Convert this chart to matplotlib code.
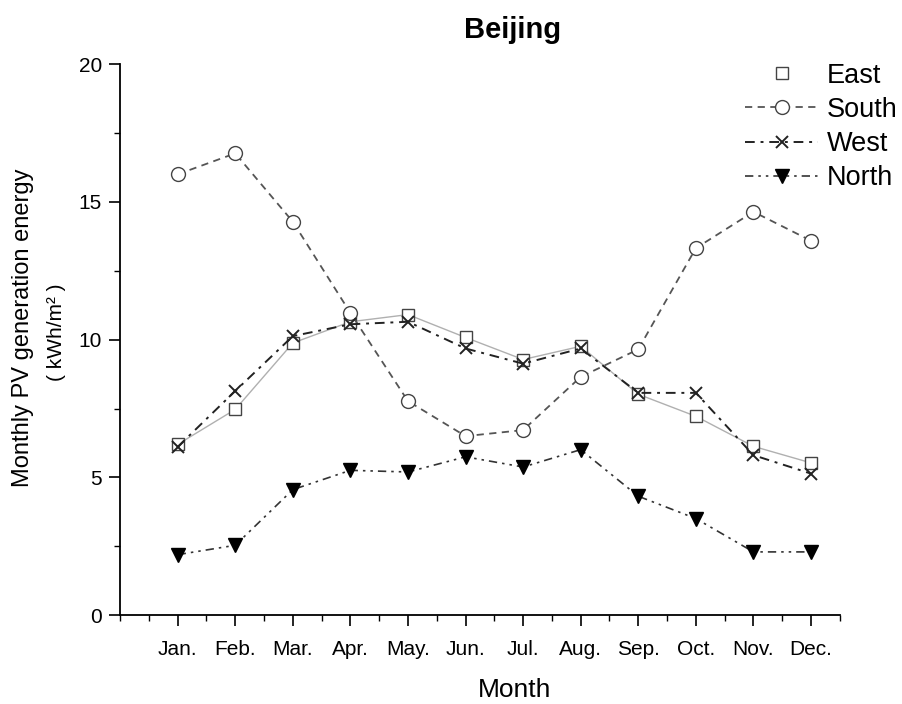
import matplotlib
matplotlib.use("Agg")
import matplotlib.pyplot as plt
from matplotlib.ticker import MultipleLocator

plt.rcParams['font.family'] = ['Liberation Sans', 'DejaVu Sans']

months = ["Jan.", "Feb.", "Mar.", "Apr.", "May.", "Jun.",
          "Jul.", "Aug.", "Sep.", "Oct.", "Nov.", "Dec."]
east = [6.2, 7.47, 9.88, 10.65, 10.91, 10.08, 9.28, 9.76, 8.02, 7.22, 6.13, 5.53]
south = [16.0, 16.76, 14.28, 10.97, 7.77, 6.5, 6.72, 8.65, 9.65, 13.32, 14.64, 13.59]
west = [6.11, 8.14, 10.13, 10.56, 10.65, 9.68, 9.13, 9.68, 8.07, 8.07, 5.81, 5.14]
north = [2.2, 2.54, 4.56, 5.26, 5.2, 5.75, 5.38, 6.01, 4.32, 3.51, 2.3, 2.3]

x = list(range(1, len(months) + 1))

fig = plt.figure(figsize=(9.03, 7.04), dpi=100)
ax = fig.add_axes([0.133, 0.126, 0.797, 0.783])

# East: light grey connecting line, legend shows the marker only
ax.plot(x, east, color='#b0b0b0', lw=1.0, zorder=2)
ax.plot(x, east, ls='none', marker='s', ms=9, mfc='white', mec='#444444',
        mew=1.0, label='East', zorder=3)
ax.plot(x, south, color='#555555', ls=(0, (4, 3)), lw=1.3, marker='o', ms=10,
        mfc='white', mec='#444444', mew=1.0, label='South', zorder=3)
ax.plot(x, west, color='#222222', ls=(0, (5, 3, 1.5, 3)), lw=1.4, marker='x',
        ms=9, mec='#222222', mew=1.4, label='West', zorder=4)
ax.plot(x, north, color='#333333', ls=(0, (5, 3, 1.5, 3, 1.5, 3)), lw=1.2,
        marker='v', ms=10, mfc='black', mec='black', label='North', zorder=4)

ax.set_xlim(0, 12.5)
ax.set_ylim(0, 20)
ax.set_xticks(x)
ax.set_xticklabels(months)
ax.xaxis.set_minor_locator(MultipleLocator(0.5))
ax.yaxis.set_major_locator(MultipleLocator(5))
ax.yaxis.set_minor_locator(MultipleLocator(2.5))

for side in ('top', 'right'):
    ax.spines[side].set_visible(False)
for side in ('left', 'bottom'):
    ax.spines[side].set_linewidth(1.3)

ax.tick_params(which='major', direction='out', length=8, width=1.2,
               labelsize=15, pad=10)
ax.tick_params(which='minor', direction='out', length=4, width=1.0)
ax.tick_params(axis='y', which='major', pad=5)

fig.text(0.570, 0.020, 'Month', fontsize=19, ha='center', va='center')
fig.text(0.026, 0.534, 'Monthly PV generation energy', rotation=90,
         fontsize=17, ha='center', va='center')
fig.text(0.063, 0.528, '( kWh/m² )', rotation=90,
         fontsize=15, ha='center', va='center')
fig.text(0.568, 0.957, 'Beijing', fontsize=21, fontweight='bold',
         ha='center', va='center')

leg = ax.legend(loc='upper right', bbox_to_anchor=(1.095, 1.022), frameon=False,
                fontsize=19.5, handlelength=2.7, handletextpad=0.3,
                labelspacing=0.3, borderaxespad=0.0)

fig.savefig('out.png', dpi=100)
